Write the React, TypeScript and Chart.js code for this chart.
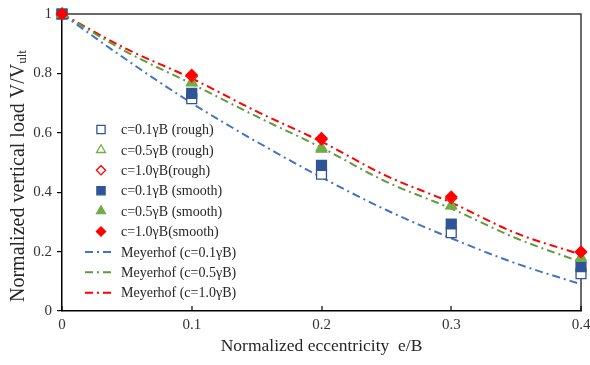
import React, { useEffect, useRef } from 'react';
import { Chart, registerables } from 'chart.js';

Chart.register(...registerables);

// ---- data ----
const eccentricity = [0, 0.1, 0.2, 0.3, 0.4];
const roughC01 = [1, 0.715, 0.461, 0.264, 0.126];
const roughC05 = [1, 0.77, 0.55, 0.355, 0.178];
const roughC10 = [1, 0.79, 0.578, 0.38, 0.198];
const smoothC01 = [1, 0.733, 0.49, 0.293, 0.149];
const smoothC05 = [1, 0.768, 0.545, 0.354, 0.18];
const smoothC10 = [1, 0.795, 0.582, 0.385, 0.2];

const meyerhofE = [0, 0.05, 0.1, 0.15, 0.2, 0.25, 0.3, 0.35, 0.4];
const meyerhofC01 = [1, 0.845, 0.7, 0.57, 0.45, 0.34, 0.245, 0.16, 0.09];
const meyerhofC05 = [1, 0.872, 0.765, 0.655, 0.55, 0.435, 0.345, 0.245, 0.165];
const meyerhofC10 = [1, 0.882, 0.783, 0.672, 0.57, 0.455, 0.365, 0.262, 0.19];

const seriesLabels = [
  'c=0.1γB (rough)',
  'c=0.5γB (rough)',
  'c=1.0γB(rough)',
  'c=0.1γB (smooth)',
  'c=0.5γB (smooth)',
  'c=1.0γB(smooth)',
  'Meyerhof (c=0.1γB)',
  'Meyerhof (c=0.5γB)',
  'Meyerhof (c=1.0γB)',
];

const xTicks = [0, 0.1, 0.2, 0.3, 0.4];
const xTickLabels = ['0', '0.1', '0.2', '0.3', '0.4'];
const yTicks = [0, 0.2, 0.4, 0.6, 0.8, 1];
const yTickLabels = ['0', '0.2', '0.4', '0.6', '0.8', '1'];

const xTitle = 'Normalized eccentricity  e/B';
const yTitleMain = 'Normalized vertical load V/V';
const yTitleSub = 'ult';

// ---- styles ----
const NAVY = '#2F5597';
const GREEN = '#70AD47';
const RED = '#FF0000';
const LBLUE = '#4472C4';
const DGREEN = '#5F9B3C';
const FONT = '"Liberation Serif", "Times New Roman", serif';
const DASH = [8, 4, 2, 4];

const pts = (xs: number[], ys: number[]) => xs.map((x, i) => ({ x, y: ys[i] }));

function drawMarker(
  ctx: CanvasRenderingContext2D,
  shape: string,
  x: number,
  y: number,
  r: number,
  fill: string,
  stroke: string,
  lw: number
) {
  ctx.beginPath();
  if (shape === 'rect') {
    const s = r * Math.SQRT1_2;
    ctx.rect(x - s, y - s, 2 * s, 2 * s);
  } else if (shape === 'triangle') {
    ctx.moveTo(x, y - r);
    ctx.lineTo(x + 0.866 * r, y + 0.5 * r);
    ctx.lineTo(x - 0.866 * r, y + 0.5 * r);
    ctx.closePath();
  } else {
    ctx.moveTo(x - r, y);
    ctx.lineTo(x, y - r);
    ctx.lineTo(x + r, y);
    ctx.lineTo(x, y + r);
    ctx.closePath();
  }
  ctx.fillStyle = fill;
  ctx.fill();
  ctx.lineWidth = lw;
  ctx.strokeStyle = stroke;
  ctx.setLineDash([]);
  ctx.stroke();
}

const decorPlugin = {
  id: 'decor',
  beforeDatasetsDraw(chart: any) {
    const { ctx, chartArea: a, scales } = chart;
    ctx.save();
    ctx.strokeStyle = '#3a3a3a';
    ctx.lineWidth = 1.5;
    ctx.beginPath();
    ctx.moveTo(a.left, a.top);
    ctx.lineTo(a.right, a.top);
    ctx.lineTo(a.right, a.bottom);
    ctx.stroke();
    ctx.strokeStyle = '#000';
    ctx.lineWidth = 1.2;
    ctx.beginPath();
    for (const v of xTicks) {
      const px = Math.round(scales.x.getPixelForValue(v));
      ctx.moveTo(px, a.bottom);
      ctx.lineTo(px, a.bottom - 5);
    }
    ctx.stroke();
    ctx.restore();
  },
  afterDraw(chart: any) {
    const { ctx, chartArea: a } = chart;
    ctx.save();
    // legend
    const items = chart.data.datasets;
    const lx = 101;
    const tx = 121;
    const y0 = 129.5;
    const step = 20.4;
    ctx.font = `14px ${FONT}`;
    ctx.textBaseline = 'middle';
    ctx.textAlign = 'left';
    items.forEach((ds: any, i: number) => {
      const y = y0 + i * step;
      if (ds.showLine) {
        ctx.beginPath();
        ctx.setLineDash(DASH);
        ctx.lineWidth = 2;
        ctx.strokeStyle = ds.borderColor;
        ctx.moveTo(85, y);
        ctx.lineTo(113, y);
        ctx.stroke();
        ctx.setLineDash([]);
      } else {
        const shape = ds.pointStyle;
        const r = shape === 'rect' ? 5.8 : shape === 'triangle' ? 5.2 : 4.6;
        drawMarker(ctx, shape, lx, y, r, ds.pointBackgroundColor, ds.pointBorderColor, 1.3);
      }
      ctx.fillStyle = '#262626';
      ctx.fillText(ds.label, tx, y + 1);
    });
    // x title
    ctx.font = `17.5px ${FONT}`;
    ctx.textAlign = 'center';
    ctx.fillStyle = '#262626';
    ctx.fillText(xTitle, (a.left + a.right) / 2, 346);
    // y title
    ctx.translate(19, 302);
    ctx.rotate(-Math.PI / 2);
    ctx.textAlign = 'left';
    ctx.font = `20px ${FONT}`;
    ctx.fillText(yTitleMain, 0, 0);
    const w = ctx.measureText(yTitleMain).width;
    ctx.font = `13px ${FONT}`;
    ctx.fillText(yTitleSub, w, 4);
    ctx.restore();
  },
};

export default function App() {
  const ref = useRef<HTMLCanvasElement>(null);
  useEffect(() => {
    document.body.style.margin = '0';
    const markerDs = (
      label: string,
      ys: number[],
      shape: string,
      fill: string,
      stroke: string,
      radius: number,
      order: number
    ) => ({
      label,
      data: pts(eccentricity, ys),
      showLine: false,
      pointStyle: shape,
      pointRadius: radius,
      pointHoverRadius: radius,
      pointBackgroundColor: fill,
      pointBorderColor: stroke,
      pointBorderWidth: 1.3,
      backgroundColor: fill,
      borderColor: stroke,
      clip: false,
      order,
    });
    const lineDs = (label: string, ys: number[], color: string, order: number) => ({
      label,
      data: pts(meyerhofE, ys),
      showLine: true,
      borderColor: color,
      backgroundColor: color,
      borderWidth: 2,
      borderDash: DASH,
      pointRadius: 0,
      pointHoverRadius: 0,
      cubicInterpolationMode: 'monotone',
      clip: false,
      order,
    });
    const chart = new Chart(ref.current as HTMLCanvasElement, {
      type: 'scatter',
      data: {
        datasets: [
          markerDs(seriesLabels[0], roughC01, 'rect', '#FFFFFF', NAVY, 7, 5),
          markerDs(seriesLabels[1], roughC05, 'triangle', '#FFFFFF', GREEN, 6, 3),
          markerDs(seriesLabels[2], roughC10, 'rectRot', '#FFFFFF', RED, 5.5, 1),
          markerDs(seriesLabels[3], smoothC01, 'rect', NAVY, NAVY, 7, 4),
          markerDs(seriesLabels[4], smoothC05, 'triangle', GREEN, GREEN, 6, 2),
          markerDs(seriesLabels[5], smoothC10, 'rectRot', RED, RED, 5.5, 0),
          lineDs(seriesLabels[6], meyerhofC01, LBLUE, 6),
          lineDs(seriesLabels[7], meyerhofC05, DGREEN, 7),
          lineDs(seriesLabels[8], meyerhofC10, RED, 8),
        ] as any,
      },
      options: {
        animation: false,
        responsive: false,
        devicePixelRatio: 1,
        layout: { padding: { top: 14, right: 9, left: 0, bottom: 0 } },
        plugins: {
          legend: { display: false },
          tooltip: { enabled: false },
          title: { display: false },
        },
        scales: {
          x: {
            type: 'linear',
            min: 0,
            max: 0.4,
            afterBuildTicks: (s: any) => {
              s.ticks = xTicks.map((v) => ({ value: v }));
            },
            afterFit: (s: any) => {
              s.height = 54;
              s.paddingRight = 0;
              s.paddingLeft = 0;
            },
            grid: { display: false, drawTicks: false },
            border: { display: true, color: '#000', width: 1.5 },
            ticks: {
              padding: 5,
              color: '#333',
              font: { family: FONT, size: 15 },
              maxRotation: 0,
              callback: (_v: any, i: number) => xTickLabels[i],
            },
          },
          y: {
            type: 'linear',
            min: 0,
            max: 1,
            afterBuildTicks: (s: any) => {
              s.ticks = yTicks.map((v) => ({ value: v }));
            },
            afterFit: (s: any) => {
              s.width = 62;
              s.paddingTop = 0;
              s.paddingBottom = 0;
            },
            grid: {
              display: true,
              drawOnChartArea: false,
              drawTicks: true,
              tickLength: 5,
              tickColor: '#000',
              lineWidth: 1.2,
            },
            border: { display: true, color: '#000', width: 1.5 },
            ticks: {
              padding: 5,
              color: '#333',
              font: { family: FONT, size: 15 },
              callback: (_v: any, i: number) => yTickLabels[i],
            },
          },
        },
      } as any,
      plugins: [decorPlugin],
    });
    return () => chart.destroy();
  }, []);
  return (
    <div style={{ position: 'absolute', left: 0, top: 0, width: 590, height: 365, background: '#fff' }}>
      <canvas ref={ref} width={590} height={365} style={{ width: 590, height: 365, display: 'block' }} />
    </div>
  );
}
